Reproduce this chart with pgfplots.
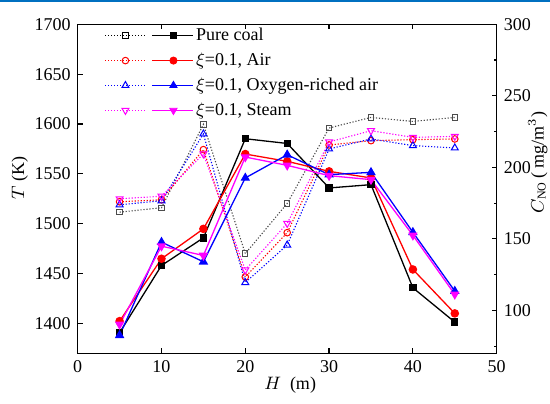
\documentclass[border=0pt]{standalone}
\usepackage{fontspec}
\setmainfont{Liberation Serif}
\usepackage{pgfplots}
\pgfplotsset{compat=1.18}

\definecolor{topblue}{RGB}{0,112,192}
\definecolor{mymag}{RGB}{255,0,255}

\pgfplotsset{
  base/.style={
    width=209.5pt, height=164.5pt, scale only axis,
    xmin=0, xmax=50,
    font=\fontsize{9}{11}\selectfont,
    tick align=inside,
    major tick length=2.5pt, minor tick length=1.5pt,
    axis line style={line width=0.65pt},
    every tick/.style={black, line width=0.6pt},
    /pgf/number format/assume math mode=true,
    /pgf/number format/set thousands separator={},
    clip=false,
  },
  dots/.style={line width=0.55pt, dash pattern=on 0.6pt off 0.9pt},
  open/.style={mark options={solid, fill=white, line width=0.5pt}},
  full/.style={line width=0.65pt, mark options={solid}},
}

\newcommand\legimg[3]{%
\addlegendimage{legend image code/.code={
  \draw[#1, line width=0.5pt, dash pattern=on 0.5pt off 1pt] (0pt,0pt) -- (20pt,0pt);
  \draw[#1, line width=0.65pt] (23.5pt,0pt) -- (44pt,0pt);
  \draw[#1, solid, line width=0.5pt, #2] plot coordinates {(10pt,0pt)};
  \draw[#1, solid, #3] plot coordinates {(34pt,0pt)};
}}}

\begin{document}
\begin{tikzpicture}
\begin{axis}[base,
  ymin=1370, ymax=1700,
  xtick={0,10,...,50}, ytick={1400,1450,...,1700},
  xtick pos=both, ytick pos=left,
  xlabel={$H$\ \ (m)},
  ylabel={$T$ (K)},
  xlabel style={at={(axis description cs:0.507,-0.096)}, anchor=center},
  ylabel style={at={(axis description cs:-0.138,0.533)}, anchor=center},
]
\addplot[black!70, dots, mark=square, open, mark size=1.35pt] coordinates
  {(5,1511.6)(10,1516)(15,1599.6)(20,1470)(25,1520.3)(30,1596)(35,1606.6)(40,1602.6)(45,1606.6)};
\addplot[red, dots, mark=o, open, mark size=1.65pt] coordinates
  {(5,1522)(10,1524)(15,1574.3)(20,1446.6)(25,1491)(30,1579)(35,1583.3)(40,1584.3)(45,1585)};
\addplot[blue, dots, mark=triangle, open, mark size=2pt] coordinates
  {(5,1519)(10,1523)(15,1590)(20,1441)(25,1478.6)(30,1575)(35,1585)(40,1578.3)(45,1576)};
\addplot[mymag, dots, mark=triangle, mark options={solid, fill=white, line width=0.5pt, rotate=180}, mark size=2pt] coordinates
  {(5,1525)(10,1527.6)(15,1570)(20,1453.6)(25,1500.3)(30,1582)(35,1593.3)(40,1586.6)(45,1587.6)};
\end{axis}

\begin{axis}[base,
  ymin=70, ymax=300,
  axis x line=none, axis y line*=right,
  ytick={100,150,...,300}, minor ytick={75,125,...,275},
  ytick pos=right,
  ylabel={$C_{\mathrm{NO}}$\,(\ mg/m$^{3}$)},
  ylabel style={at={(axis description cs:1.098,0.58)}, anchor=center},
  legend cell align=left,
  legend style={draw=none, fill=none, inner sep=0pt, outer sep=0pt,
    at={(axis description cs:0.065,0.995)}, anchor=north west,
    row sep=2.7pt, font=\fontsize{9}{11}\selectfont,
    nodes={inner sep=1pt}},
]
\legimg{black}{mark=square, mark size=1.35pt, fill=white}{mark=square*, mark size=1.5pt}
\addlegendentry{Pure coal}
\legimg{red}{mark=o, mark size=1.65pt, fill=white}{mark=*, mark size=1.8pt}
\addlegendentry{$\xi$=0.1, Air}
\legimg{blue}{mark=triangle, mark size=2pt, fill=white}{mark=triangle*, mark size=2.1pt}
\addlegendentry{$\xi$=0.1, Oxygen-riched air}
\legimg{mymag}{mark=triangle, mark size=2pt, mark options={rotate=180}, fill=white}{mark=triangle*, mark size=2.1pt, mark options={rotate=180}}
\addlegendentry{$\xi$=0.1, Steam}

\addplot[black, full, mark=square*, mark size=1.5pt] coordinates
  {(5,84.4)(10,131.4)(15,150.7)(20,220)(25,216.7)(30,185.6)(35,187.9)(40,115.8)(45,91.8)};
\addplot[red, full, mark=*, mark size=1.8pt] coordinates
  {(5,92.5)(10,136.1)(15,157)(20,209.3)(25,204.2)(30,197.2)(35,192.6)(40,128.6)(45,97.9)};
\addplot[blue, full, mark=triangle*, mark size=2.1pt] coordinates
  {(5,82.6)(10,147.7)(15,134)(20,192.6)(25,208.8)(30,194.9)(35,196.5)(40,154.6)(45,113.5)};
\addplot[mymag, full, mark=triangle*, mark size=2.1pt, mark options={solid, rotate=180}] coordinates
  {(5,90.2)(10,144.9)(15,138.4)(20,207.2)(25,201.4)(30,194.2)(35,191.4)(40,152.5)(45,111.2)};
\end{axis}
\pgfresetboundingbox
\useasboundingbox (-38.85pt,-24.85pt) rectangle (236.15pt,176.65pt);
\draw[topblue, line width=1pt] (-38.85pt,176.15pt) -- (236.15pt,176.15pt);
\end{tikzpicture}
\end{document}
